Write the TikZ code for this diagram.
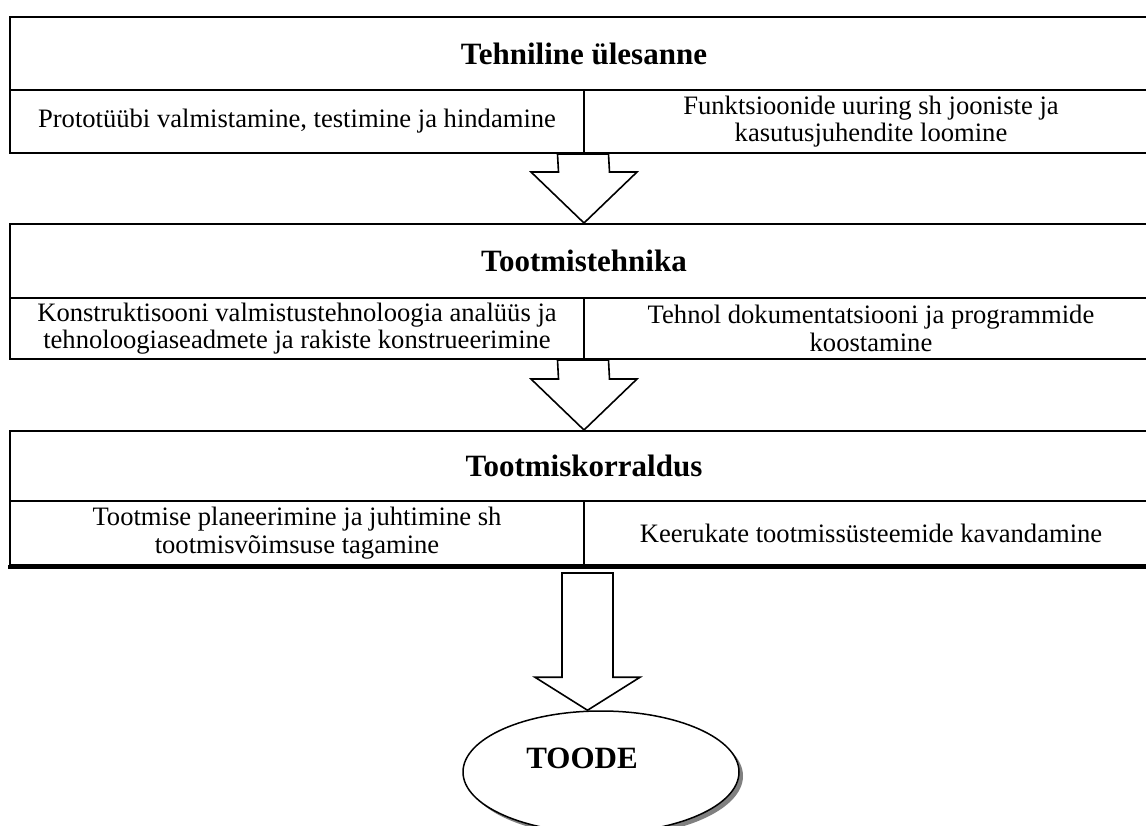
\documentclass[tikz,border=0pt]{standalone}
\usepackage{fontspec}
\setmainfont{Liberation Serif}
\usetikzlibrary{calc,shapes.geometric,shadows}

\tikzset{
  hdr/.style={draw, line width=2pt, minimum width=1148pt, inner sep=0pt,
    anchor=north west, font=\fontsize{31}{34}\selectfont\bfseries},
  cell/.style={draw, line width=2pt, inner sep=0pt, anchor=north west,
    minimum width=574pt, align=center, font=\fontsize{26.6}{27.7}\selectfont},
  barrow/.style={draw, line width=1.6pt, fill=white, line join=miter},
}

% hollow block arrow: #1 top centre, #2 tip, #3 stem half width,
% #4 head half width, #5 head length
\newcommand\blockarrow[5]{%
  \draw[barrow] ($#1+(-#3,0)$) -- ($#2+(-#3,-#5)$) -- ($#2+(-#4,-#5)$)
    -- #2 -- ($#2+(#4,-#5)$) -- ($#2+(#3,-#5)$) -- ($#1+(#3,0)$) -- cycle;}

\begin{document}
\begin{tikzpicture}[x=1pt,y=-1pt]
\useasboundingbox (0,0) rectangle (1146,826);
\clip (0,0) rectangle (1146,826);
\fill[white] (0,0) rectangle (1146,826);

% first stage
\node[hdr, minimum height=73pt] (t1) at (9,16) {Tehniline ülesanne};
\node[cell, minimum height=63pt] (t1a) at (9,89)
  {Prototüübi valmistamine, testimine ja hindamine};
\node[cell, minimum height=63pt] (t1b) at (583,89)
  {Funktsioonide uuring sh jooniste ja\\kasutusjuhendite loomine};

% second stage
\node[hdr, minimum height=74pt] (t2) at (9,223) {Tootmistehnika};
\node[cell, minimum height=61pt] (t2a) at (9,297)
  {Konstruktisooni valmistustehnoloogia analüüs ja\\tehnoloogiaseadmete ja rakiste konstrueerimine};
\node[cell, minimum height=61pt] (t2b) at (583,297)
  {Tehnol dokumentatsiooni ja programmide\\koostamine};

% third stage
\node[hdr, minimum height=70pt] (t3) at (9,430) {Tootmiskorraldus};
\node[cell, minimum height=64pt] (t3a) at (9,500)
  {Tootmise planeerimine ja juhtimine sh\\tootmisvõimsuse tagamine};
\node[cell, minimum height=64pt] (t3b) at (583,500)
  {Keerukate tootmissüsteemide kavandamine};
\draw[line width=4pt] ($(t3a.south west)+(-1,1)$) -- ($(t3b.south east)+(0,1)$);

% product
\node[ellipse, draw, line width=1.5pt, fill=white, minimum width=276pt,
  minimum height=122pt,
  drop shadow={shadow xshift=4pt, shadow yshift=-4pt, fill=gray, opacity=1}]
  (toode) at (601,772) {};
\node[font=\fontsize{31}{34}\selectfont\bfseries] (toodetxt) at (582,758) {TOODE};

% block arrows between the stages
\blockarrow{(t1b.south west)}{(t2.north)}{25.5}{53}{51}
\blockarrow{(t2b.south west)}{(t3.north)}{25.5}{53}{51}
\coordinate (a3) at (587.5,573);
\blockarrow{(a3)}{(a3 |- toode.north)}{25.5}{52.5}{33}
\end{tikzpicture}
\end{document}
